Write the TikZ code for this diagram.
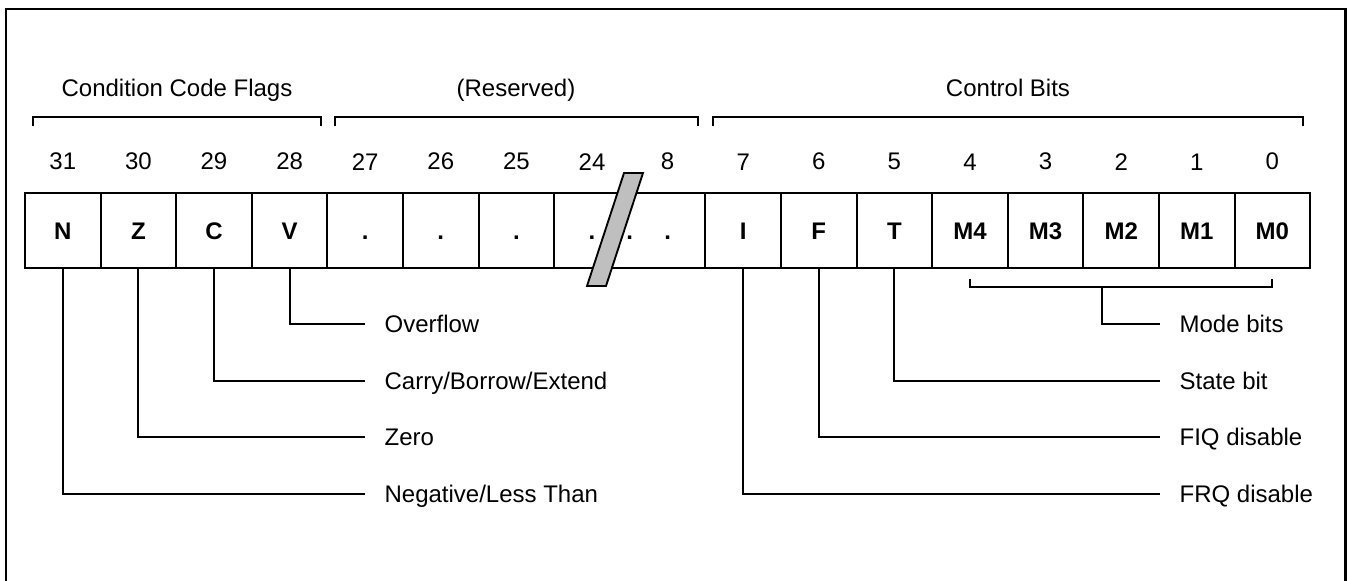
\documentclass[tikz,border=0pt]{standalone}
\usepackage{fontspec}
\setmainfont{Liberation Sans}
\usetikzlibrary{positioning}

\newcommand{\regfont}{\fontsize{18}{22}\selectfont}

\tikzset{
  bitbox/.style={draw, minimum width=56.7pt, minimum height=56.25pt,
    inner sep=0pt, outer sep=0pt, text height=12.9pt, text depth=0pt,
    font=\regfont\bfseries},
  bitcell/.style={bitbox, draw=none},
  bitnum/.style={inner sep=0pt},
  flaglabel/.style={anchor=west, inner xsep=14pt, inner ysep=0pt,
    text height=12.9pt, text depth=0pt},
  heading/.style={anchor=base, inner sep=0pt}
}

\begin{document}
\begin{tikzpicture}[x=0.75pt, y=-0.75pt, line width=1.4pt, font=\regfont]
  \useasboundingbox (0,0) rectangle (1347,581);
  % frame, open at the bottom
  \draw[line width=2.2pt] (6,581) -- (6,9) -- (1345.5,9) -- (1345.5,581);

  % group headings
  \node[heading] (ccf) at (177,97) {Condition Code Flags};
  \node[heading] (rsvd) at (516,97) {(Reserved)};
  \node[heading] (ctrl) at (1008,97) {Control Bits};
  \draw (33,126) |- (321,117) -- (321,126);
  \draw (335,126) |- (698,117) -- (698,126);
  \draw (713,126) |- (1303,117) -- (1303,126);

  % register cells
  \node[bitbox] (b31) at (62.8,230.5) {N};
  \node[bitbox] (b30) [right=0pt of b31] {Z};
  \node[bitbox] (b29) [right=0pt of b30] {C};
  \node[bitbox] (b28) [right=0pt of b29] {V};
  \node[bitbox] (b27) [right=0pt of b28] {.};
  \node[bitbox] (b26) [right=0pt of b27] {.};
  \node[bitbox] (b25) [right=0pt of b26] {.};
  \node[bitcell] (b24) [right=0pt of b25] {.};
  \node[bitcell] (b8) [right=0pt of b24] {.};
  \node[bitbox] (b7) [right=0pt of b8] {I};
  \node[bitbox] (b6) [right=0pt of b7] {F};
  \node[bitbox] (b5) [right=0pt of b6] {T};
  \node[bitbox] (b4) [right=0pt of b5] {M4};
  \node[bitbox] (b3) [right=0pt of b4] {M3};
  \node[bitbox] (b2) [right=0pt of b3] {M2};
  \node[bitbox] (b1) [right=0pt of b2] {M1};
  \node[bitbox] (b0) [right=0pt of b1] {M0};
  \draw (b24.north west) rectangle (b8.south east);
  \node[bitcell] (gapdot) at (b24.east) {.};

  % bit numbers
  \node[bitnum, above=16.5pt of b31] {31};
  \node[bitnum, above=16.5pt of b30] {30};
  \node[bitnum, above=16.5pt of b29] {29};
  \node[bitnum, above=16.5pt of b28] {28};
  \node[bitnum, above=16.5pt of b27] {27};
  \node[bitnum, above=16.5pt of b26] {26};
  \node[bitnum, above=16.5pt of b25] {25};
  \node[bitnum, above=16.5pt of b24] {24};
  \node[bitnum, above=16.5pt of b8] {8};
  \node[bitnum, above=16.5pt of b7] {7};
  \node[bitnum, above=16.5pt of b6] {6};
  \node[bitnum, above=16.5pt of b5] {5};
  \node[bitnum, above=16.5pt of b4] {4};
  \node[bitnum, above=16.5pt of b3] {3};
  \node[bitnum, above=16.5pt of b2] {2};
  \node[bitnum, above=16.5pt of b1] {1};
  \node[bitnum, above=16.5pt of b0] {0};

  % break mark
  \draw[fill=gray!50] (624,173) -- (643,173) -- (606,286) -- (587,286) -- cycle;

  % flag descriptions
  \node[flaglabel] (ovf) at (365,324) {Overflow};
  \node[flaglabel] (cry) at (365,381) {Carry/Borrow/Extend};
  \node[flaglabel] (zro) at (365,437) {Zero};
  \node[flaglabel] (neg) at (365,494) {Negative/Less Than};
  \node[flaglabel] (mode) at (1160,324) {Mode bits};
  \node[flaglabel] (state) at (1160,381) {State bit};
  \node[flaglabel] (fiq) at (1160,437) {FIQ disable};
  \node[flaglabel] (frq) at (1160,494) {FRQ disable};

  \draw (b28.south) |- (ovf.west);
  \draw (b29.south) |- (cry.west);
  \draw (b30.south) |- (zro.west);
  \draw (b31.south) |- (neg.west);
  \draw (b5.south) |- (state.west);
  \draw (b6.south) |- (fiq.west);
  \draw (b7.south) |- (frq.west);

  % mode bits bracket
  \draw ([yshift=-8.25pt]b4.south) -- ([yshift=-14.25pt]b4.south)
    -- ([yshift=-14.25pt]b0.south) -- ([yshift=-8.25pt]b0.south);
  \coordinate (modestem) at (1102,287);
  \draw (modestem) |- (mode.west);
\end{tikzpicture}
\end{document}
